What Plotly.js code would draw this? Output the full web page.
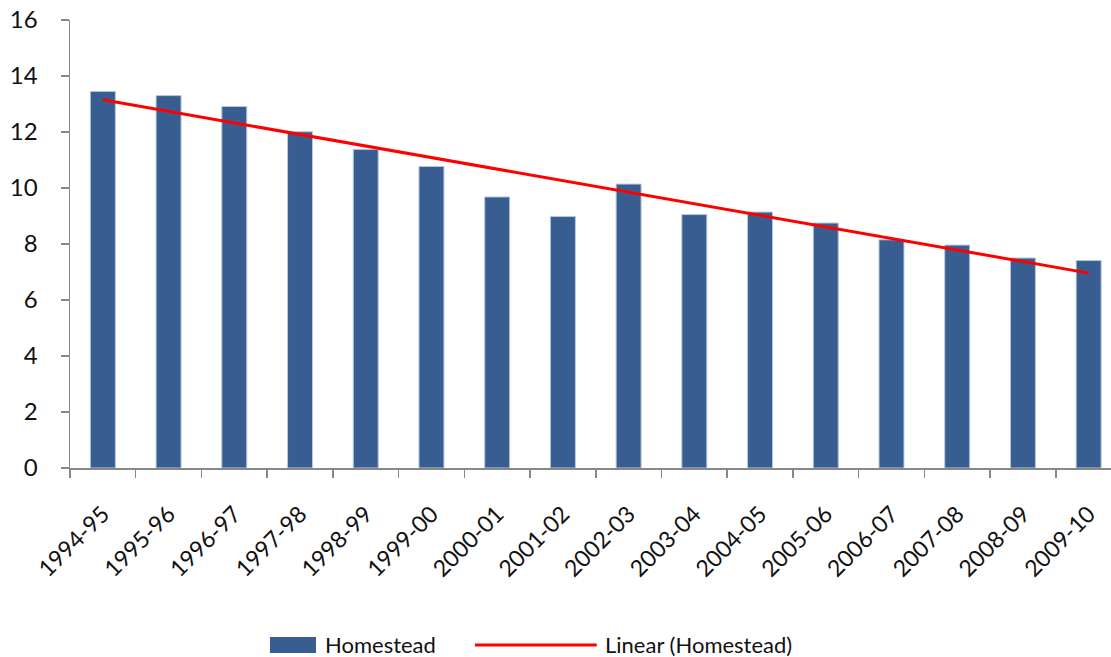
<!DOCTYPE html>
<html>
<head>
<meta charset="utf-8">
<script src="https://cdn.plot.ly/plotly-3.0.1.min.js"></script>
<style>html,body{margin:0;padding:0;background:#fff;}#chart{width:1111px;height:657px;}</style>
</head>
<body>
<div id="chart"></div>
<script>
const years = ["1994-95","1995-96","1996-97","1997-98","1998-99","1999-00","2000-01","2001-02","2002-03","2003-04","2004-05","2005-06","2006-07","2007-08","2008-09","2009-10"];
const homestead = [13.45,13.30,12.91,12.01,11.38,10.77,9.68,8.98,10.14,9.05,9.14,8.75,8.15,7.96,7.50,7.41];
const trendEnds = [13.15,6.96];
const trendCats = [years[0], years[years.length-1]];
const yTicks = [0,2,4,6,8,10,12,14,16];

const barColor = "#385E91";
const font = "Lato, 'Open Sans', sans-serif";
const textColor = "#111";

const traces = [
  {type:"bar", x:years, y:homestead, name:"Homestead", width:0.38,
   marker:{color:barColor, line:{color:"#b8c7da", width:1}}, showlegend:false},
  {type:"scatter", mode:"lines", x:trendCats, y:trendEnds, name:"Linear (Homestead)",
   line:{color:"#ff0000", width:3}, showlegend:false}
];

const layout = {
  width:1111, height:657,
  margin:{l:70, r:0, t:20, b:189},
  paper_bgcolor:"#fff", plot_bgcolor:"#fff",
  font:{family:font, color:textColor, size:22},
  showlegend:false,
  xaxis:{type:"category", range:[-0.5,15.34], showline:true, linecolor:"#888", linewidth:1.5,
    ticks:"outside", tickson:"boundaries", ticklen:8, tickcolor:"#888", tickwidth:1.5,
    tickangle:-45, tickfont:{size:23, family:font, color:textColor}, showgrid:false, zeroline:false,
    ticklabelstandoff:22},
  yaxis:{range:[0,16], tickvals:yTicks, showline:true, linecolor:"#888", linewidth:1.5,
    ticks:"outside", ticklen:8, tickcolor:"#888", tickwidth:1.5,
    tickfont:{size:24, family:font, color:textColor}, showgrid:false, zeroline:false,
    ticklabelstandoff:18},
  shapes:[
    {type:"rect", xref:"paper", yref:"paper", x0:0.1921, x1:0.2363, y0:-0.413, y1:-0.377,
     fillcolor:barColor, line:{width:0}},
    {type:"line", xref:"paper", yref:"paper", x0:0.389, x1:0.506, y0:-0.395, y1:-0.395,
     line:{color:"#ff0000", width:3}}
  ],
  annotations:[
    {xref:"paper", yref:"paper", x:0.243, y:-0.395, xanchor:"left", yanchor:"middle",
     text:"Homestead", showarrow:false, font:{size:22, family:font, color:textColor}},
    {xref:"paper", yref:"paper", x:0.512, y:-0.395, xanchor:"left", yanchor:"middle",
     text:"Linear (Homestead)", showarrow:false, font:{size:22, family:font, color:textColor}}
  ]
};

Plotly.newPlot("chart", traces, layout, {displayModeBar:false, staticPlot:true});
</script>
</body>
</html>
